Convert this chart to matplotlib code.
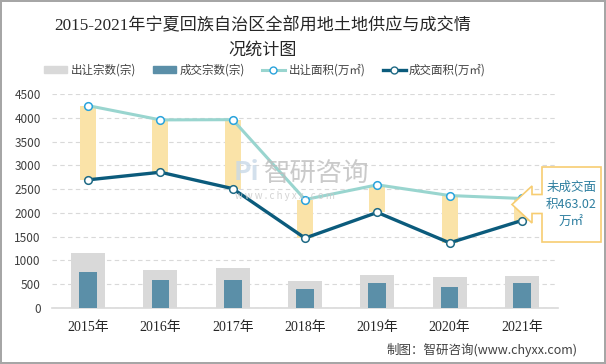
import numpy as np
import matplotlib
matplotlib.use("Agg")
import matplotlib.pyplot as plt
from matplotlib.patches import Patch, Polygon
from matplotlib.lines import Line2D

plt.rcParams['font.family'] = ['Noto Sans CJK SC', 'DejaVu Sans']

years = ["2015年", "2016年", "2017年", "2018年", "2019年", "2020年", "2021年"]
supply_count = [1165, 805, 833, 568, 686, 644, 673]      # 出让宗数(宗)
deal_count = [757, 595, 595, 400, 518, 434, 532]         # 成交宗数(宗)
supply_area = [4255, 3955, 3960, 2280, 2590, 2365, 2303]  # 出让面积(万㎡)
deal_area = [2695, 2855, 2510, 1470, 2010, 1370, 1840]    # 成交面积(万㎡)
unsold_note = "未成交面\n积463.02\n万㎡"

serif = ['Liberation Serif', 'Noto Sans CJK SC']

fig = plt.figure(figsize=(6.06, 3.64), dpi=100)
fig.patch.set_facecolor("white")
fig.patch.set_edgecolor("#A6A6A6")
fig.patch.set_linewidth(1.5)
ax = fig.add_axes([0.0858, 0.1538, 0.835, 0.588])

x = np.arange(len(years))
ax.bar(x, supply_count, width=0.47, color="#D9D9D9", zorder=2)
ax.bar(x, deal_count, width=0.245, color="#5B8FA8", zorder=3)

lo = np.minimum(supply_area, deal_area)
hi = np.maximum(supply_area, deal_area)
ax.bar(x, hi - lo, bottom=lo, width=0.22, color="#FAE3A8", zorder=4)

ax.plot(x, supply_area, color="#99D5CF", lw=2.2, marker="o", ms=5.5,
        mfc="white", mec="#2AA3DC", mew=1.1, zorder=5)
ax.plot(x, deal_area, color="#0B5B7C", lw=2.4, marker="o", ms=5.5,
        mfc="white", mec="#1F6A85", mew=1.1, zorder=6)

ax.set_xlim(-0.5, len(years) - 0.5)
ax.set_ylim(0, 4500)
ax.set_yticks(np.arange(0, 4501, 500))
ax.set_xticks(x)
ax.set_xticklabels(years, family=serif, fontsize=10, color="#262626")
ax.tick_params(axis="y", labelsize=8.5, colors="#404040", length=0, pad=8)
ax.tick_params(axis="x", length=0, pad=9)
ax.grid(axis="y", color="#D9D9D9", ls=(0, (4, 3)), lw=0.8, zorder=0)
for s in ["top", "right", "left"]:
    ax.spines[s].set_visible(False)
ax.spines["bottom"].set_color("#D9D9D9")
ax.spines["bottom"].set_linewidth(1.2)

fig.text(0.433, 0.928, "2015-2021年宁夏回族自治区全部用地土地供应与成交情",
         family=serif, fontsize=12.3, ha="center", va="center", color="#262626")
fig.text(0.433, 0.862, "况统计图", family=serif, fontsize=12.3,
         ha="center", va="center", color="#262626")

handles = [
    Patch(color="#D9D9D9"),
    Patch(color="#5B8FA8"),
    Line2D([], [], color="#99D5CF", lw=2.2, marker="o", ms=5, mfc="white", mec="#2AA3DC"),
    Line2D([], [], color="#0B5B7C", lw=2.4, marker="o", ms=5, mfc="white", mec="#1F6A85"),
]
labels = ["出让宗数(宗)", "成交宗数(宗)", "出让面积(万㎡)", "成交面积(万㎡)"]
fig.legend(handles, labels, loc="center", bbox_to_anchor=(0.437, 0.808), ncol=4,
           frameon=False, fontsize=8.3, handlelength=2.0, handleheight=0.55,
           columnspacing=1.5, handletextpad=0.3, labelcolor="#404040")

# watermark
fig.text(0.385, 0.525, "Pi", fontsize=19, color="#C9D9E8", ha="left", va="center",
         weight="bold", alpha=0.8)
fig.text(0.436, 0.525, "智研咨询", fontsize=19, color="#BDBDBD", ha="left",
         va="center", alpha=0.8)
fig.text(0.388, 0.462, "w w w . c h y x x . c o m", fontsize=7, color="#C8C8C8",
         ha="left", va="center", alpha=0.8)

# callout box
W, H = 606.0, 364.0
pts = [(542, 167), (601, 167), (601, 242), (542, 242), (542, 213.5),
       (532, 213.5), (532, 223), (512, 204.5), (532, 186), (532, 194.5), (542, 194.5)]
poly = Polygon([(px / W, 1 - py / H) for px, py in pts], closed=True,
               transform=fig.transFigure, facecolor="white", edgecolor="#F7CD72",
               lw=1.2, zorder=10)
fig.patches.append(poly)
fig.text(571.5 / W, 1 - 204.5 / H, unsold_note, fontsize=9, color="#2E7FA0",
         ha="center", va="center", linespacing=1.45, zorder=11)

fig.text(0.953, 0.038, "制图：智研咨询(www.chyxx.com)", fontsize=9,
         color="#404040", ha="right", va="center",
         family=['Noto Sans CJK SC', 'Liberation Sans'])

fig.savefig("out.png", dpi=100)
